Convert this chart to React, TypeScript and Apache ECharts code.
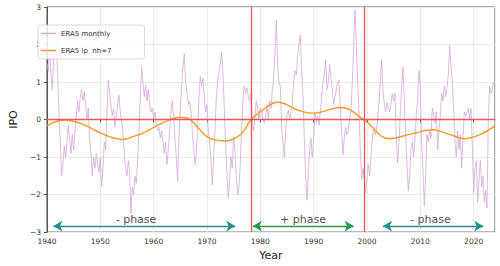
import React, { useEffect, useRef } from "react";
import * as echarts from "echarts";

// Quarterly samples of the monthly ERA5 IPO index (Jan, Apr, Jul, Oct)
const ipo1940s = [
  1.5, 1.3, 1.9, 1.2, 0.8, 1.6, 2.0, 2.1, 1.2, 0.2, -0.6, -1.5, -1.2, -0.7, -1.0, -0.6,
  -0.15, -0.5, -0.9, -0.4, -0.8, -0.3, 0.1, 0.5, 0.2, 0.6, 0.8, 0.5, 0.75, 0.4, 0.0, 0.3,
  -0.5, -0.9, -1.5, -1.0, -1.3, -0.9, -1.2, -1.4,
];
const ipo1950s = [
  -1.0, -1.8, -1.3, -0.6, -0.8, 0.2, 1.05, 0.7, 0.4, 0.1, 0.3, -0.2, 0.1, 0.4, 0.65, 0.2,
  0.0, -0.4, -0.9, -1.3, -1.5, -1.1, -1.4, -2.5, -1.8, -2.0, -1.5, -1.7, -1.1, -0.3, 0.6, 1.4,
  1.0, 0.6, 0.9, 0.5, 0.8, 0.4, 0.2, 0.3,
];
const ipo1960s = [
  0.0, 0.2, -0.1, -0.3, -0.2, -0.5, -0.3, -0.6, -0.9, -0.6, -1.2, -0.8, -0.3, 0.2, 0.5, 0.1,
  -0.5, -1.0, -1.65, -0.4, 0.3, 0.9, 1.4, 1.75, 1.0, 0.7, 0.4, 0.5, 0.2, -0.3, -0.8, -1.2,
  -0.9, -0.2, 0.6, 1.15, 0.9, 1.1, 0.6, 0.2,
];
const ipo1970s = [
  0.4, -0.3, -0.6, -1.1, -1.75, -1.0, -0.3, 0.6, 1.0, 1.3, 1.5, 1.8, 1.2, 0.3, -0.6, -1.5,
  -2.1, -1.6, -1.0, -1.3, -0.45, -0.9, -1.5, -2.0, -1.8, -1.2, -0.2, 0.5, 0.9, 0.7, 0.85, 0.6,
  0.5, 0.7, -0.1, -0.3, 0.1, 0.5, 0.3, 0.0,
];
const ipo1980s = [
  0.3, 0.2, 0.0, -0.1, 0.1, 0.4, 0.0, 0.5, 0.3, 0.8, 1.1, 1.8, 2.65, 1.4, 1.0, 0.9,
  -0.2, -0.6, -1.0, -0.3, 0.1, 0.25, 0.0, 0.2, 0.4, 1.0, 1.3, 1.2, 1.7, 2.0, 2.25, 1.3,
  0.6, -0.5, -1.5, -2.15, -1.4, -0.8, -0.5, -1.0,
];
const ipo1990s = [
  -0.5, 0.2, -0.1, 0.1, -0.15, 0.2, 0.6, 1.0, 1.2, 1.6, 0.8, 1.0, 1.46, 1.1, 0.8, 0.4,
  0.6, 0.8, 1.0, 1.05, 0.3, -0.3, -0.93, -0.5, -0.2, -0.4, -0.3, 0.0, 0.3, 1.0, 2.0, 2.92,
  2.0, 1.0, 0.2, -0.8, -1.6, -1.3, -1.6, -1.96,
];
const ipo2000s = [
  -1.5, -1.2, -1.5, -1.0, -0.5, -0.2, -0.4, -0.3, 0.0, 0.5, 1.0, 1.59, 0.8, 0.4, 0.2, 0.45,
  0.3, 0.2, 0.4, 0.7, 0.5, 0.7, -0.5, -1.15, -0.6, 0.2, 0.9, 1.4, 0.5, -0.4, -1.2, -1.9,
  -1.5, -0.8, -0.6, -1.0, -0.5, 0.1, 0.6, 1.31,
];
const ipo2010s = [
  0.9, -0.7, -1.3, -2.3, -1.5, -0.4, -0.6, -0.3, -0.5, 0.3, 0.1, -0.1, 0.2, -0.8, -0.3, 0.1,
  0.7, 0.5, 0.9, 0.6, 0.85, 1.2, 1.97, 1.4, 1.0, 0.3, -0.6, -1.0, -0.3, -0.8, -0.4, -1.3,
  -0.5, 0.2, 0.1, 0.2, 0.3, 0.0, 0.3, -0.7,
];
const ipo2020s = [
  -1.95, -1.3, -1.1, -2.2, -1.6, -1.1, -1.8, -1.5, -2.2, -1.9, -2.36, 0.0, 0.9, 0.7, 0.8, 1.0,
  0.96,
];

// Low-pass filtered curve (nh=7)
const lpYears = [
  1940, 1943.3, 1947, 1950.5, 1954.2, 1956.4, 1958.25, 1960.1, 1963.1, 1964.95, 1966.8,
  1970.4, 1973.5, 1976.3, 1978.3, 1980.5, 1983.25, 1987.2, 1989.8, 1995.1, 1999.4, 2004.2,
  2008.2, 2012.3, 2015.3, 2018.35, 2021.2, 2024,
];
const lpValues = [
  -0.16, -0.01, -0.14, -0.39, -0.53, -0.44, -0.35, -0.2, 0.0, 0.06, 0.0,
  -0.49, -0.57, -0.4, 0.0, 0.26, 0.46, 0.24, 0.17, 0.32, 0.0, -0.51,
  -0.39, -0.27, -0.39, -0.51, -0.4, -0.17,
];

// Phase boundaries and annotations
const phaseBoundaries = [1978.3, 1999.4];
const phaseArrows = [
  { from: 1941.2, to: 1975.3, label: "- phase", labelAt: 1956.7, color: "#24908c" },
  { from: 1978.6, to: 1997.5, label: "+ phase", labelAt: 1988.0, color: "#25984a" },
  { from: 2003.0, to: 2021.8, label: "- phase", labelAt: 2011.9, color: "#24908c" },
];
const arrowLevel = -2.84;
const labelLevel = -2.66;

const xTicks = { min: 1940, max: 2024, interval: 10 };
const yTicks = { min: -3, max: 3, interval: 1 };

const FONT = "DejaVu Sans";

export default function App() {
  const ref = useRef<HTMLDivElement>(null);

  useEffect(() => {
    if (!ref.current) return;
    const chart = echarts.init(ref.current, undefined, { renderer: "svg" });

    const monthly = [
      ...ipo1940s, ...ipo1950s, ...ipo1960s, ...ipo1970s, ...ipo1980s,
      ...ipo1990s, ...ipo2000s, ...ipo2010s, ...ipo2020s,
    ].map((v, i) => [1940 + i * 0.25, v]);
    const lp = lpYears.map((y, i) => [y, lpValues[i]]);

    const fmtMinus = (v: number) => (v < 0 ? "\u2212" + Math.abs(v) : String(v));

    chart.setOption({
      animation: false,
      textStyle: { fontFamily: FONT },
      grid: {
        left: 35, top: 7, right: 5, bottom: 31,
        show: true, borderColor: "#555", borderWidth: 1, backgroundColor: "transparent",
      },
      legend: {
        left: 38, top: 25, orient: "vertical",
        itemWidth: 15, itemHeight: 1.5, itemGap: 10,
        padding: [5, 33, 5, 3],
        backgroundColor: "rgba(255,255,255,0.85)",
        borderColor: "#d0d0d0", borderWidth: 0.8, borderRadius: 3,
        textStyle: { fontSize: 7, color: "#333", fontFamily: FONT },
        data: [
          { name: "ERA5 monthly", icon: "rect" },
          { name: "ERA5 lp  nh=7", icon: "rect" },
        ],
      },
      xAxis: {
        type: "value",
        min: xTicks.min, max: xTicks.max, interval: xTicks.interval,
        name: "Year", nameLocation: "middle", nameGap: 14,
        nameTextStyle: { fontSize: 11, color: "#222", fontFamily: FONT },
        axisLine: { show: true, lineStyle: { color: "#555", width: 1 } },
        axisTick: { show: true, length: 3, lineStyle: { color: "#555" } },
        axisLabel: {
          fontSize: 7.5, color: "#333", margin: 5,
          formatter: (v: number) => String(v),
          showMaxLabel: false,
        },
        splitLine: { show: true, lineStyle: { color: "#ebebeb", width: 1 } },
      },
      yAxis: {
        type: "value",
        min: yTicks.min, max: yTicks.max, interval: yTicks.interval,
        name: "IPO", nameLocation: "middle", nameGap: 20, nameRotate: 90,
        nameTextStyle: { fontSize: 11, color: "#222", fontFamily: FONT },
        axisLine: { show: true, lineStyle: { color: "#555", width: 1 } },
        axisTick: { show: true, length: 3, lineStyle: { color: "#555" } },
        axisLabel: { fontSize: 7.5, color: "#333", margin: 6, formatter: fmtMinus },
        splitLine: { show: true, lineStyle: { color: "#ebebeb", width: 1 } },
      },
      series: [
        {
          name: "ERA5 monthly",
          type: "line",
          data: monthly,
          showSymbol: false,
          color: "#d4a8da",
          lineStyle: { color: "#d4a8da", width: 0.8 },
          z: 2,
          silent: true,
        },
        {
          name: "ERA5 lp  nh=7",
          type: "line",
          data: lp,
          smooth: 0.4,
          showSymbol: false,
          color: "#fa9a28",
          lineStyle: { color: "#fa9a28", width: 1.4 },
          z: 4,
          silent: true,
        },
        {
          name: "refs",
          type: "line",
          data: [],
          silent: true,
          z: 3,
          markLine: {
            silent: true,
            symbol: ["none", "none"],
            label: { show: false },
            lineStyle: { color: "#f05454", width: 1.3, type: "solid" },
            data: [
              { yAxis: 0 },
              ...phaseBoundaries.map((x) => ({ xAxis: x })),
            ],
          },
        },
        {
          name: "arrows",
          type: "line",
          data: [],
          silent: true,
          z: 5,
          markLine: {
            silent: true,
            symbol: ["arrow", "arrow"],
            symbolSize: [8, 9],
            label: { show: false },
            data: phaseArrows.map((a) => [
              { coord: [a.from, arrowLevel], lineStyle: { color: a.color, width: 1.3, type: "solid" }, itemStyle: { color: a.color } },
              { coord: [a.to, arrowLevel] },
            ]),
          },
        },
        {
          name: "phaseLabels",
          type: "scatter",
          symbolSize: 0,
          silent: true,
          z: 6,
          data: phaseArrows.map((a) => ({ value: [a.labelAt, labelLevel], name: a.label })),
          label: {
            show: true,
            position: "inside",
            formatter: (p: any) => p.name,
            fontSize: 11,
            color: "#222",
            fontFamily: FONT,
          },
        },
      ],
    });

    return () => chart.dispose();
  }, []);

  return (
    <div
      ref={ref}
      style={{ position: "absolute", left: 0, top: 0, width: 500, height: 266 }}
    />
  );
}
